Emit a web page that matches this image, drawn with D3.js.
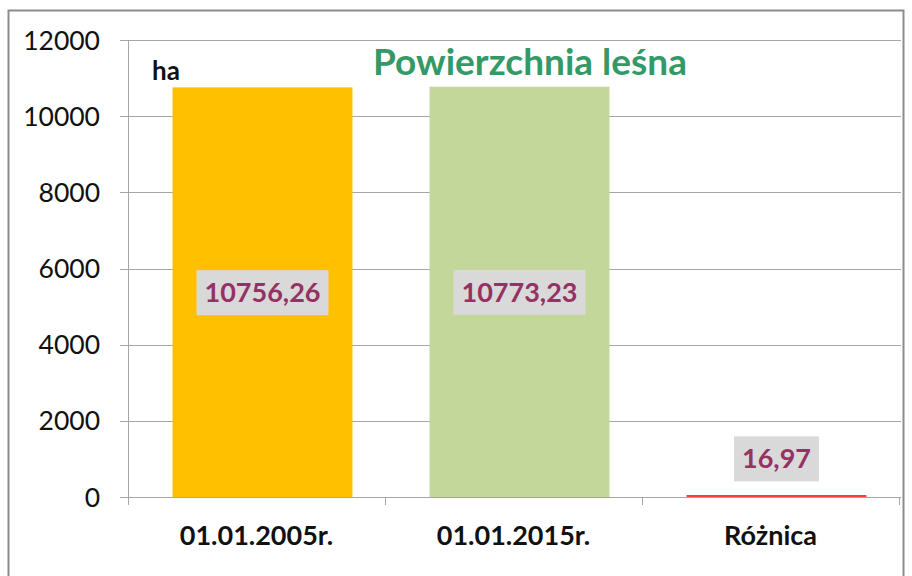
<!DOCTYPE html>
<html>
<head>
<meta charset="utf-8">
<script src="https://cdn.jsdelivr.net/npm/d3@7"></script>
<style>
  body { margin: 0; background: #fff; }
  svg text { font-family: Lato, "Open Sans", sans-serif; }
</style>
</head>
<body>
<div id="chart"></div>
<script>
// data
const categories = ["01.01.2005r.", "01.01.2015r.", "Różnica"];
const values = [10756.26, 10773.23, 16.97];
const valueLabels = ["10756,26", "10773,23", "16,97"];
const barColors = ["#FFC000", "#C4D79B", "#FF3B3B"];
const yTicks = [0, 2000, 4000, 6000, 8000, 10000, 12000];

const width = 912, height = 576;
const svg = d3.select("#chart").append("svg")
    .attr("width", width)
    .attr("height", height);

// outer frame
svg.append("rect")
    .attr("x", 8.5).attr("y", 10.5)
    .attr("width", 895).attr("height", 600)
    .attr("fill", "none")
    .attr("stroke", "#8c8c8c").attr("stroke-width", 2);

const plotLeft = 128, plotRight = 899, plotTop = 40, plotBottom = 497;

const y = d3.scaleLinear().domain([0, 12000]).range([plotBottom, plotTop]);
const x = d3.scaleBand().domain(categories).range([plotLeft, plotRight])
    .paddingInner(0.3).paddingOuter(0.15);
const xBand = d3.scaleBand().domain(categories).range([plotLeft, plotRight]);
const barShift = 6; // bars sit slightly right of band centres in the original

// gridlines + y ticks
svg.append("g").selectAll("line").data(yTicks).join("line")
    .attr("x1", plotLeft - 8).attr("x2", plotRight + 2)
    .attr("y1", d => Math.round(y(d)) + 0.5).attr("y2", d => Math.round(y(d)) + 0.5)
    .attr("stroke", "#a6a6a6").attr("stroke-width", 1);

svg.append("g").selectAll("text").data(yTicks).join("text")
    .attr("x", 100).attr("y", d => y(d))
    .attr("dy", "0.36em")
    .attr("text-anchor", "end")
    .attr("font-size", 26.5)
    .attr("fill", "#111")
    .text(d => d);

// y axis line
svg.append("line")
    .attr("x1", plotLeft + 0.5).attr("x2", plotLeft + 0.5)
    .attr("y1", plotTop).attr("y2", plotBottom + 8)
    .attr("stroke", "#a6a6a6");

// x ticks at band boundaries
const xBounds = categories.map(c => xBand(c)).concat([plotRight]);
svg.append("g").selectAll("line").data(xBounds.slice(1)).join("line")
    .attr("x1", d => Math.round(d) + 0.5).attr("x2", d => Math.round(d) + 0.5)
    .attr("y1", plotBottom).attr("y2", plotBottom + 8)
    .attr("stroke", "#a6a6a6");

// bars
svg.append("g").selectAll("rect").data(values).join("rect")
    .attr("x", (d, i) => x(categories[i]) + barShift)
    .attr("width", x.bandwidth())
    .attr("y", d => Math.min(y(d), plotBottom - 2))
    .attr("height", d => Math.max(plotBottom - y(d), 2))
    .attr("fill", (d, i) => barColors[i]);

// x labels
svg.append("g").selectAll("text").data(categories).join("text")
    .attr("x", d => xBand(d) + xBand.bandwidth() / 2)
    .attr("y", 545)
    .attr("text-anchor", "middle")
    .attr("font-size", 27)
    .attr("font-weight", "bold")
    .attr("fill", "#111")
    .text(d => d);

// value labels with grey boxes
const labelY = values.map(v => v > 1000 ? y(v / 2) : y(v) - 38);
const lg = svg.append("g").selectAll("g").data(values).join("g")
    .attr("transform", (d, i) => `translate(${x(categories[i]) + barShift + x.bandwidth() / 2},${labelY[i]})`);
lg.append("text")
    .attr("text-anchor", "middle")
    .attr("dy", "0.36em")
    .attr("font-size", 27)
    .attr("font-weight", "bold")
    .attr("fill", "#953163")
    .text((d, i) => valueLabels[i]);
lg.each(function () {
    const g = d3.select(this);
    const bb = g.select("text").node().getBBox();
    g.insert("rect", "text")
        .attr("x", bb.x - 8).attr("y", -22)
        .attr("width", bb.width + 16).attr("height", 45)
        .attr("fill", "#d9d9d9");
});

// title
svg.append("text")
    .attr("x", 530).attr("y", 75)
    .attr("text-anchor", "middle")
    .attr("font-size", 37)
    .attr("font-weight", "bold")
    .attr("fill", "#339966")
    .text("Powierzchnia leśna");

// unit label
svg.append("text")
    .attr("x", 152).attr("y", 80)
    .attr("font-size", 26)
    .attr("font-weight", "bold")
    .attr("fill", "#111")
    .text("ha");
</script>
</body>
</html>
